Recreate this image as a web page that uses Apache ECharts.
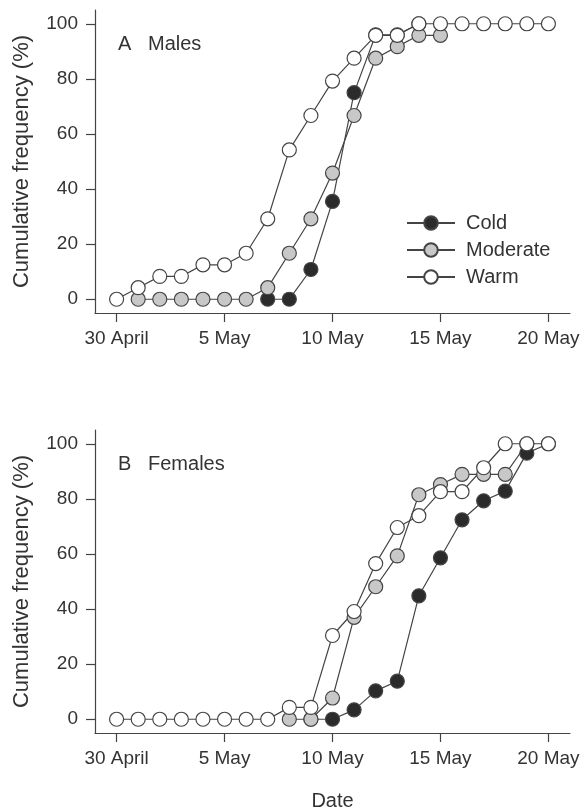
<!DOCTYPE html>
<html>
<head>
<meta charset="utf-8">
<script src="https://cdn.jsdelivr.net/npm/echarts@6/dist/echarts.min.js"></script>
<style>
  html, body { margin: 0; padding: 0; background: #fff; }
  #chart { width: 585px; height: 811px; }
</style>
</head>
<body>
<div id="chart"></div>
<script>
// days counted from 30 April (0) to 20 May (20)
var days = [0, 1, 2, 3, 4, 5, 6, 7, 8, 9, 10, 11, 12, 13, 14, 15, 16, 17, 18, 19, 20];
var tickDays = [0, 5, 10, 15, 20];
var tickLabels = ['30 April', '5 May', '10 May', '15 May', '20 May'];
var yTicks = [0, 20, 40, 60, 80, 100];

// A  Males
var maleCold     = [null, null, null, null, null, null, null, 0, 0, 10.8, 35.5, 75, 96, 96, 100, null, null, null, null, null, null];
var maleModerate = [null, 0, 0, 0, 0, 0, 0, 4.2, 16.7, 29.2, 45.8, 66.7, 87.5, 91.7, 95.8, 95.8, null, null, null, null, null];
var maleWarm     = [0, 4.2, 8.3, 8.3, 12.5, 12.5, 16.7, 29.2, 54.2, 66.7, 79.2, 87.5, 95.8, 95.8, 100, 100, 100, 100, 100, 100, 100];

// B  Females
var femaleCold     = [null, null, null, null, null, null, null, null, null, 0, 0, 3.4, 10.3, 13.8, 44.8, 58.6, 72.4, 79.3, 82.8, 96.6, 100];
var femaleModerate = [null, null, null, null, null, null, null, null, 0, 0, 7.7, 37, 48.1, 59.3, 81.5, 85.2, 88.9, 88.9, 88.9, 100, null];
var femaleWarm     = [0, 0, 0, 0, 0, 0, 0, 0, 4.3, 4.3, 30.4, 39.1, 56.5, 69.6, 73.9, 82.6, 82.6, 91.3, 100, 100, 100];

function pairs(vals) {
  var out = [];
  days.forEach(function (d, i) {
    if (vals[i] !== null) out.push([d, vals[i]]);
  });
  return out;
}

var textColor = '#333';
var lineColor = '#444';
var font = 'Liberation Sans';
var fills = { Cold: '#2b2b2b', Moderate: '#c8c8c8', Warm: '#ffffff' };

function makeSeries(name, vals, idx) {
  return {
    name: name,
    type: 'line',
    xAxisIndex: idx,
    yAxisIndex: idx,
    data: pairs(vals),
    symbol: 'circle',
    symbolSize: 14,
    lineStyle: { color: lineColor, width: 1.2 },
    itemStyle: { color: fills[name], borderColor: lineColor, borderWidth: 1.2 },
    emphasis: { disabled: true },
    animation: false
  };
}

function xAxis(idx, withName) {
  return {
    type: 'value',
    gridIndex: idx,
    min: -1,
    max: 21,
    splitLine: { show: false },
    axisLine: { onZero: false, lineStyle: { color: lineColor, width: 1.2 } },
    axisTick: { customValues: tickDays, length: 9, lineStyle: { color: lineColor, width: 1.2 } },
    axisLabel: {
      customValues: tickDays,
      margin: 16,
      fontSize: 19,
      color: textColor,
      fontFamily: font,
      formatter: function (v) { return tickLabels[tickDays.indexOf(v)]; }
    },
    name: withName ? 'Date' : '',
    nameLocation: 'middle',
    nameGap: 58,
    nameTextStyle: { fontSize: 20, color: textColor, fontFamily: font }
  };
}

function yAxis(idx) {
  return {
    type: 'value',
    gridIndex: idx,
    min: -5,
    max: 105,
    splitLine: { show: false },
    axisLine: { show: true, onZero: false, lineStyle: { color: lineColor, width: 1.2 } },
    axisTick: { show: true, customValues: yTicks, length: 9, lineStyle: { color: lineColor, width: 1.2 } },
    axisLabel: {
      customValues: yTicks,
      margin: 17,
      fontSize: 19,
      color: textColor,
      fontFamily: font
    },
    name: 'Cumulative frequency (%)',
    nameLocation: 'middle',
    nameGap: 62,
    nameTextStyle: { fontSize: 22, color: textColor, fontFamily: font }
  };
}

var chart = echarts.init(document.getElementById('chart'), null, { renderer: 'canvas' });
chart.setOption({
  backgroundColor: '#fff',
  animation: false,
  grid: [
    { left: 95, right: 15, top: 10, height: 303, outerBoundsMode: 'none' },
    { left: 95, right: 15, top: 430, height: 303, outerBoundsMode: 'none' }
  ],
  xAxis: [xAxis(0, false), xAxis(1, true)],
  yAxis: [yAxis(0), yAxis(1)],
  title: [
    { text: 'A   Males', left: 113, top: 29, textStyle: { fontSize: 20, fontWeight: 'normal', color: textColor, fontFamily: font } },
    { text: 'B   Females', left: 113, top: 449, textStyle: { fontSize: 20, fontWeight: 'normal', color: textColor, fontFamily: font } }
  ],
  legend: {
    data: ['Cold', 'Moderate', 'Warm'],
    orient: 'vertical',
    left: 401,
    top: 208,
    itemWidth: 48,
    itemHeight: 17,
    itemGap: 7,
    selectedMode: false,
    textStyle: { fontSize: 20, color: textColor, fontFamily: font, padding: [0, 0, 0, 6] }
  },
  series: [
    makeSeries('Cold', maleCold, 0),
    makeSeries('Moderate', maleModerate, 0),
    makeSeries('Warm', maleWarm, 0),
    makeSeries('Cold', femaleCold, 1),
    makeSeries('Moderate', femaleModerate, 1),
    makeSeries('Warm', femaleWarm, 1)
  ]
});
</script>
</body>
</html>
